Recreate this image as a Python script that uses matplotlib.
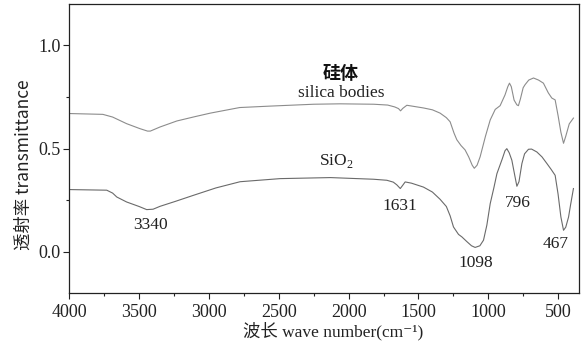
import numpy as np
import matplotlib
matplotlib.use('Agg')
import matplotlib.pyplot as plt
from matplotlib.ticker import MultipleLocator

plt.rcParams['font.family'] = ['Liberation Serif', 'Noto Sans CJK SC', 'DejaVu Serif']
plt.rcParams['mathtext.fontset'] = 'custom'
plt.rcParams['mathtext.rm'] = 'Liberation Serif'

# silica bodies (upper trace)
wn_silica = [4000, 3760, 3690, 3590, 3495, 3440, 3420, 3350, 3230, 3100, 2990, 2780,
             2560, 2250, 2060, 1820, 1720, 1670, 1643, 1628, 1612, 1583, 1464, 1400,
             1345, 1300, 1273, 1245, 1225, 1195, 1166, 1140, 1115, 1100, 1080, 1058,
             1020, 986, 950, 915, 880, 860, 848, 835, 815, 795, 784, 770, 750, 736,
             710, 676, 640, 605, 570, 545, 521, 500, 480, 461, 445, 420, 390]
t_silica = [0.670, 0.666, 0.653, 0.621, 0.597, 0.585, 0.585, 0.605, 0.634, 0.655, 0.672, 0.699,
            0.706, 0.715, 0.717, 0.715, 0.711, 0.702, 0.694, 0.683, 0.695, 0.710, 0.697, 0.688,
            0.672, 0.650, 0.630, 0.575, 0.543, 0.515, 0.494, 0.460, 0.420, 0.405, 0.420, 0.461,
            0.560, 0.639, 0.690, 0.708, 0.760, 0.800, 0.817, 0.800, 0.735, 0.712, 0.708, 0.740,
            0.795, 0.810, 0.832, 0.842, 0.832, 0.817, 0.770, 0.745, 0.736, 0.660, 0.580, 0.526,
            0.560, 0.620, 0.648]

# SiO2 (lower trace)
wn_sio2 = [4000, 3732, 3690, 3660, 3590, 3500, 3446, 3400, 3350, 3240, 3112, 2950, 2777,
           2490, 2130, 1822, 1726, 1680, 1655, 1630, 1610, 1595, 1550, 1464, 1400, 1345,
           1300, 1273, 1249, 1213, 1189, 1153, 1120, 1094, 1060, 1034, 1010, 986, 960,
           938, 900, 880, 867, 850, 831, 810, 795, 780, 759, 740, 712, 690, 652, 615,
           580, 550, 521, 500, 480, 461, 445, 425, 410, 390]
t_sio2 = [0.302, 0.299, 0.285, 0.266, 0.242, 0.220, 0.205, 0.207, 0.221, 0.245, 0.274, 0.310, 0.340,
          0.355, 0.360, 0.352, 0.347, 0.338, 0.325, 0.307, 0.325, 0.339, 0.333, 0.314, 0.290, 0.255,
          0.220, 0.175, 0.121, 0.085, 0.073, 0.050, 0.030, 0.022, 0.030, 0.057, 0.130, 0.234, 0.310,
          0.379, 0.450, 0.490, 0.500, 0.480, 0.444, 0.370, 0.318, 0.340, 0.428, 0.475, 0.497, 0.498,
          0.484, 0.460, 0.428, 0.400, 0.371, 0.280, 0.170, 0.105, 0.120, 0.169, 0.230, 0.307]

peak_labels = ['3340', '1631', '1098', '796', '467']
peak_x = [3422, 1631, 1087, 786, 521]
peak_y = [0.129, 0.221, -0.055, 0.236, 0.037]

fig = plt.figure(figsize=(5.84, 3.41), dpi=100)
ax = fig.add_axes([0.1187, 0.1399, 0.8723, 0.8483])

ax.plot(wn_silica, t_silica, color='#8c8c8c', lw=0.8)
ax.plot(wn_sio2, t_sio2, color='#6a6a6a', lw=0.8)

ax.set_xlim(4000, 352)
ax.set_ylim(-0.2, 1.2)
ax.xaxis.set_minor_locator(MultipleLocator(250))
ax.yaxis.set_minor_locator(MultipleLocator(0.25))
ax.set_xticks([4000, 3500, 3000, 2500, 2000, 1500, 1000, 500])
ax.set_yticks([0.0, 0.5, 1.0])
ax.set_yticklabels(['0.0', '0.5', '1.0'])

ax.tick_params(which='major', direction='out', length=4.5, width=0.8, labelsize=13,
               colors='#222222')
ax.tick_params(axis='x', which='major', pad=3)
ax.tick_params(axis='y', which='major', pad=2)
ax.tick_params(which='minor', direction='out', length=2.5, width=0.8, colors='#222222')
for s in ax.spines.values():
    s.set_linewidth(0.9)
    s.set_color('#222222')

for lab, x, y in zip(peak_labels, peak_x, peak_y):
    ax.text(x, y, lab, fontsize=12.5, ha='center', va='center', color='#222222')

ax.text(2054, 0.865, '硅体', fontsize=13, ha='center', va='center', weight='bold',
        family=['Noto Sans CJK SC'], color='#111111')
ax.text(2054, 0.767, 'silica bodies', fontsize=12.5, ha='center', va='center', color='#222222')
ax.text(2089, 0.439, 'SiO$_2$', fontsize=12.5, ha='center', va='center', color='#222222')

fig.text(333 / 584, 1 - 331 / 341, '波长 wave number(cm⁻¹)', fontsize=12.5,
         ha='center', va='center', color='#222222',
         family=['Liberation Serif', 'Noto Sans CJK SC', 'DejaVu Serif'])
fig.text(24 / 584, 1 - 165 / 341, '透射率 transmittance', fontsize=12.5, rotation=90,
         ha='center', va='center', color='#222222',
         family=['Noto Sans CJK SC', 'DejaVu Sans'])

fig.savefig('out.png', dpi=100)
